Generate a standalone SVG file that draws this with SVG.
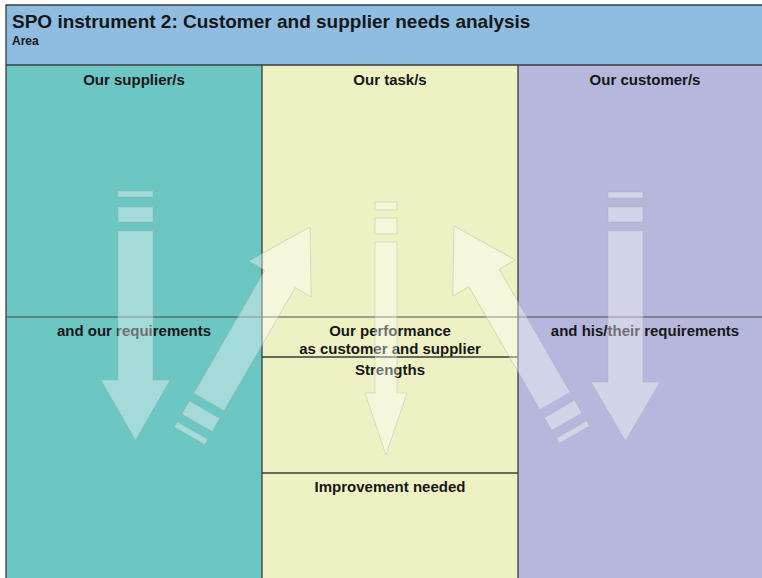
<svg xmlns="http://www.w3.org/2000/svg" width="762" height="578" viewBox="0 0 762 578">
  <style>
    .t { font-family: "Liberation Sans", Arial, sans-serif; font-weight: bold; fill: #161616; }
    .h { font-size: 15px; text-anchor: middle; }
    .div { stroke: #3c3c3c; stroke-width: 1.3; fill: none; }
    .arw { fill: #ffffff; fill-opacity: 0.38; stroke: #a8a8a8; stroke-opacity: 0.45; stroke-width: 0.8; }
  </style>
  <defs>
    <g id="diagArrow">
      <path d="M0,0 L36,60 L17.5,60 L17.5,202 L-17.5,202 L-17.5,60 L-36,60 Z"/>
      <rect x="-17.5" y="211" width="35" height="15"/>
      <rect x="-17.5" y="235" width="35" height="6"/>
    </g>
  </defs>
  <rect width="762" height="578" fill="#ffffff"/>

  <g id="header">
    <rect x="6" y="5" width="756" height="60" fill="#8ebde1"/>
    <path class="div" d="M6,65 V5 H762"/>
    <text class="t" x="12" y="28" font-size="19">SPO instrument 2: Customer and supplier needs analysis</text>
    <text class="t" x="12" y="45" font-size="12">Area</text>
  </g>

  <g id="suppliers">
    <rect x="6" y="65" width="256" height="513" fill="#6cc6c2"/>
    <text class="t h" x="134" y="85">Our supplier/s</text>
    <text class="t h" x="134" y="336">and our requirements</text>
  </g>

  <g id="tasks">
    <rect x="262" y="65" width="256" height="513" fill="#eef2c3"/>
    <text class="t h" x="390" y="85">Our task/s</text>
    <text class="t h" x="390" y="336">Our performance</text>
    <text class="t h" x="390" y="354">as customer and supplier</text>
    <text class="t h" x="390" y="375">Strengths</text>
    <text class="t h" x="390" y="492">Improvement needed</text>
  </g>

  <g id="customers">
    <rect x="518" y="65" width="244" height="513" fill="#b5b8dc"/>
    <text class="t h" x="645" y="85">Our customer/s</text>
    <text class="t h" x="645" y="336">and his/their requirements</text>
  </g>

  <g id="gridlines">
    <path class="div" d="M6,65 H762 M6,65 V578 M262,65 V578 M518,65 V578"/>
    <path d="M6,317 H762" stroke="#4a4a4a" stroke-width="1"/>
    <path class="div" d="M262,357 H518 M262,473 H518"/>
  </g>

  <g id="connectors" class="arw">
    <!-- left downward arrow -->
    <rect x="118" y="191" width="35" height="6"/>
    <rect x="118" y="207" width="35" height="15"/>
    <path d="M118,231 H153 V380 H170 L135.5,440 L101,380 H118 Z"/>
    <!-- middle downward arrow -->
    <rect x="375" y="202" width="22" height="8"/>
    <rect x="375" y="218" width="22" height="16"/>
    <path d="M375,242 H397 V393 H407 L386,455 L365,393 H375 Z"/>
    <!-- right downward arrow -->
    <rect x="608" y="192" width="35" height="6"/>
    <rect x="608" y="207" width="35" height="15"/>
    <path d="M608,231 H643 V382 H660 L625.5,441 L591,382 H608 Z"/>
    <!-- diagonal arrows -->
    <use href="#diagArrow" transform="translate(310,227) rotate(30)"/>
    <use href="#diagArrow" transform="translate(454,226) rotate(-30)"/>
  </g>
</svg>
